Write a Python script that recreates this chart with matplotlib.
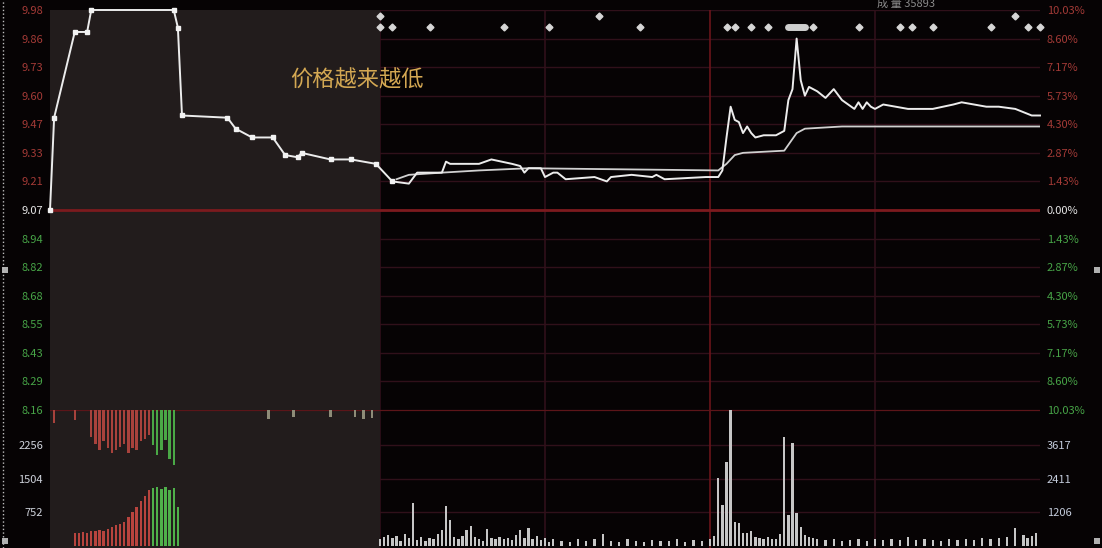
import numpy as np
import matplotlib
matplotlib.use("Agg")
import matplotlib.pyplot as plt
from matplotlib.lines import Line2D
from matplotlib.patches import Rectangle
from matplotlib.transforms import blended_transform_factory

plt.rcParams['font.family'] = ['Noto Sans CJK SC', 'DejaVu Sans']

# ---- data ----
pre_close = 9.07

price_min = [0, 1, 6, 9, 10, 30, 31, 32, 43, 45, 49, 54, 57, 60, 61, 68, 73, 79,
             83, 87, 89, 95, 96, 97, 101, 104, 107, 112, 114, 115, 116, 119, 120,
             122, 123, 125, 132, 135, 136, 141, 146, 147, 149, 159, 162, 163, 164,
             165, 166, 167, 168, 169, 170, 171, 173, 176, 178, 179, 180, 181, 182,
             183, 184, 186, 188, 190, 192, 195, 196, 197, 198, 199, 200, 202, 208,
             214, 219, 221, 227, 230, 234, 238, 240]
price_val = [9.07, 9.49, 9.88, 9.88, 9.98, 9.98, 9.90, 9.50, 9.49, 9.44, 9.40, 9.40,
             9.32, 9.31, 9.33, 9.30, 9.30, 9.28, 9.20, 9.19, 9.24, 9.24, 9.29, 9.28,
             9.28, 9.28, 9.30, 9.28, 9.27, 9.24, 9.26, 9.26, 9.22, 9.24, 9.24, 9.21,
             9.22, 9.20, 9.22, 9.23, 9.22, 9.23, 9.21, 9.22, 9.22, 9.25, 9.40, 9.54,
             9.48, 9.47, 9.42, 9.45, 9.42, 9.40, 9.41, 9.41, 9.43, 9.57, 9.62, 9.85,
             9.66, 9.59, 9.63, 9.61, 9.58, 9.62, 9.57, 9.53, 9.56, 9.53, 9.56, 9.54,
             9.53, 9.55, 9.53, 9.53, 9.55, 9.56, 9.54, 9.54, 9.53, 9.50, 9.50]

avg_min = [84, 87, 95, 104, 116, 162, 164, 166, 168, 178, 181, 183, 192, 240]
avg_val = [9.21, 9.23, 9.24, 9.25, 9.26, 9.25, 9.28, 9.32, 9.33, 9.34, 9.42, 9.44,
           9.45, 9.45]

vol_min = [6, 7, 8, 9, 10, 11, 12, 13, 14, 15, 16, 17, 18, 19, 20, 21, 22, 23, 24,
           25, 26, 27, 28, 29, 30, 31,
           80, 81, 82, 83, 84, 85, 86, 87, 88, 89, 90, 91, 92, 93, 94, 95, 96, 97,
           98, 99, 100, 101, 102, 103, 104, 105, 106, 107, 108, 109, 110, 111, 112,
           113, 114, 115, 116, 117, 118, 119, 120, 121, 122, 124, 126, 128, 130,
           132, 134, 136, 138, 140, 142, 144, 146, 148, 150, 152, 154, 156, 158,
           160, 161, 162, 163, 164, 165, 166, 167, 168, 169, 170, 171, 172, 173,
           174, 175, 176, 177, 178, 179, 180, 181, 182, 183, 184, 185, 186, 188,
           190, 192, 194, 196, 198, 200, 202, 204, 206, 208, 210, 212, 214, 216,
           218, 220, 222, 224, 226, 228, 230, 232, 234, 236, 237, 238, 239]
vol_val = [290, 300, 320, 300, 330, 340, 357, 340, 380, 420, 460, 500, 536, 650,
           760, 880, 1000, 1120, 1250,
           1300, 1320, 1280, 1316, 1250, 1290, 870,
           150, 200, 250, 180, 230, 120, 260, 180, 960, 140, 200, 120, 180, 150,
           260, 357, 893, 580, 200, 150, 220, 357, 446, 200, 160, 120, 380, 180,
           150, 200, 160, 180, 140, 250, 357, 180, 402, 160, 220, 130, 180, 100,
           150, 120, 100, 150, 120, 160, 268, 120, 100, 150, 120, 100, 130, 110,
           120, 150, 100, 130, 120, 150, 220, 1517, 915, 1874, 3057, 536, 513, 290,
           300, 330, 200, 180, 150, 200, 160, 150, 260, 2432, 700, 2298, 736, 420,
           250, 200, 180, 150, 130, 150, 120, 130, 160, 120, 150, 130, 160, 140,
           200, 130, 150, 140, 120, 150, 130, 160, 140, 180, 150, 170, 200, 400,
           250, 180, 220, 300]

# bars hanging from the top of the volume panel
hang_min = [1, 6, 10, 11, 12, 13, 14, 15, 16, 17, 18, 19, 20, 21, 22, 23, 24,
            25, 26, 27, 28, 29, 30, 53, 59, 68, 74, 76, 78]
hang_val = [300, 220, 600, 750, 900, 700, 850, 960, 900, 820, 760, 960, 850, 900,
            700, 650, 560, 780, 1000, 890, 670, 1100, 1230, 200, 150, 150, 150,
            200, 180]

signal_low = [80, 83, 92, 110, 121, 143, 164, 166, 170, 174, 185, 196, 206, 209,
              214, 228, 237, 240]
signal_high = [80, 133, 234]
signal_span = (179, 183)

price_labels = ['9.98', '9.86', '9.73', '9.60', '9.47', '9.33', '9.21', '9.07',
                '8.94', '8.82', '8.68', '8.55', '8.43', '8.29', '8.16']
pct_labels = ['10.03%', '8.60%', '7.17%', '5.73%', '4.30%', '2.87%', '1.43%',
              '0.00%', '1.43%', '2.87%', '4.30%', '5.73%', '7.17%', '8.60%',
              '10.03%']
vol_ticks = [752, 1504, 2256]
vol_right_labels = ['1206', '2411', '3617']

# ---- styling ----
BG = '#060304'
SHADE = '#221c1c'
GRID = '#30101a'
RED_TXT = '#a33a36'
GRN_TXT = '#47a447'
W, H = 1102, 548

fig = plt.figure(figsize=(W / 100, H / 100), dpi=100)
fig.patch.set_facecolor(BG)


def box(x0, y0, x1, y1):
    return [x0 / W, 1 - y1 / H, (x1 - x0) / W, (y1 - y0) / H]


ax = fig.add_axes(box(50, 10, 1040, 410))
axv = fig.add_axes(box(50, 410, 1040, 548))
for a in (ax, axv):
    a.set_facecolor(BG)
    a.set_xlim(0, 240)
    for s in a.spines.values():
        s.set_visible(False)
    a.set_xticks([])
    a.tick_params(length=0, labelsize=8, pad=5)

ax.set_ylim(8.16, 9.98)
axv.set_ylim(-45, 3035)

# shaded first part of the session
for a in (ax, axv):
    a.axvspan(-0.8, 80, color=SHADE, zorder=1, lw=0)

# grid
yt = np.linspace(8.16, 9.98, 15)
for y in yt:
    ax.axhline(y, color=GRID, lw=1, zorder=0.5)
for m in [40, 80, 120, 160, 200]:
    c = '#6a141a' if m == 160 else GRID
    ax.axvline(m, color=c, lw=1.2, zorder=0.6)
    axv.axvline(m, color=c, lw=1.2, zorder=0.6)
ax.axhline(pre_close, color='#7c1a1e', lw=2, zorder=2)
axv.axhline(axv.get_ylim()[1], color='#5c1519', lw=1.6, zorder=2)
for v in vol_ticks:
    axv.axhline(v, color=GRID, lw=1, zorder=0.5)

# price / average lines
ax.plot(avg_min, avg_val, color='#d0d0d0', lw=1.3, zorder=4)
ax.plot(price_min, price_val, color='#ececec', lw=1.4, zorder=5, clip_on=False)
early = [i for i, m in enumerate(price_min) if m <= 83]
ax.plot([price_min[i] for i in early], [price_val[i] for i in early], 's',
        color='#f2f2f2', ms=3, zorder=6, clip_on=False)

# signal diamonds along the top
tr = blended_transform_factory(ax.transData, ax.transAxes)
ax.plot(signal_low, [0.957] * len(signal_low), 'D', color='#d6d6d6', ms=3.5,
        transform=tr, clip_on=False, zorder=6)
ax.plot(signal_high, [0.985] * len(signal_high), 'D', color='#d6d6d6', ms=3.5,
        transform=tr, clip_on=False, zorder=6)
ax.plot(signal_span, [0.957, 0.957], color='#cfcfcf', lw=5,
        solid_capstyle='round', transform=tr, clip_on=False, zorder=6)

# volume bars
vcols = ['#b8443e' if m < 25 else ('#4fb04a' if m < 40 else '#c6c6c6')
         for m in vol_min]
axv.bar(vol_min, vol_val, width=0.55, color=vcols, zorder=3, lw=0)
top = axv.get_ylim()[1]
hcols = ['#a8423c' if m < 25 else ('#4aa846' if m < 40 else '#8e8c78')
         for m in hang_min]
axv.bar(hang_min, [-v for v in hang_val], bottom=top, width=0.55, color=hcols,
        zorder=3, lw=0)

# axis labels
ax.set_yticks(yt)
ax.set_yticklabels(price_labels[::-1])
axr = ax.twinx()
axr.set_ylim(ax.get_ylim())
axr.set_yticks(yt)
axr.set_yticklabels(pct_labels[::-1])
axr.tick_params(length=0, labelsize=8, pad=5)
for s in axr.spines.values():
    s.set_visible(False)
for lab_set in (ax.get_yticklabels(), axr.get_yticklabels()):
    for i, t in enumerate(lab_set[::-1]):
        t.set_color(RED_TXT if i < 7 else ('#e6e6e6' if i == 7 else GRN_TXT))

axv.set_yticks(vol_ticks)
axv.set_yticklabels([str(v) for v in vol_ticks], color='#cfd3dc')
axvr = axv.twinx()
axvr.set_ylim(axv.get_ylim())
axvr.set_yticks(vol_ticks)
axvr.set_yticklabels(vol_right_labels, color='#c4ccdc')
axvr.tick_params(length=0, labelsize=8, pad=5)
for s in axvr.spines.values():
    s.set_visible(False)

# texts
fig.text(290 / W, 1 - 80 / H, '价格越来越低', color='#d4a853', fontsize=16,
         va='center', ha='left')
fig.text(877 / W, 1 - 4 / H, '成 量 35893', color='#8c8c8c', fontsize=8,
         va='center', ha='left')

# screenshot selection frame on the left edge
fig.add_artist(Line2D([3 / W, 3 / W], [0, 1], ls=':', color='#bdbdbd', lw=1))
for (px, py) in [(5, 270), (5, 541), (1097, 270), (1097, 541)]:
    fig.add_artist(Rectangle(((px - 3) / W, 1 - (py + 3) / H), 6 / W, 6 / H,
                             facecolor='#b0b0b0', edgecolor='none'))

fig.savefig('out.png', dpi=100, facecolor=fig.get_facecolor())
